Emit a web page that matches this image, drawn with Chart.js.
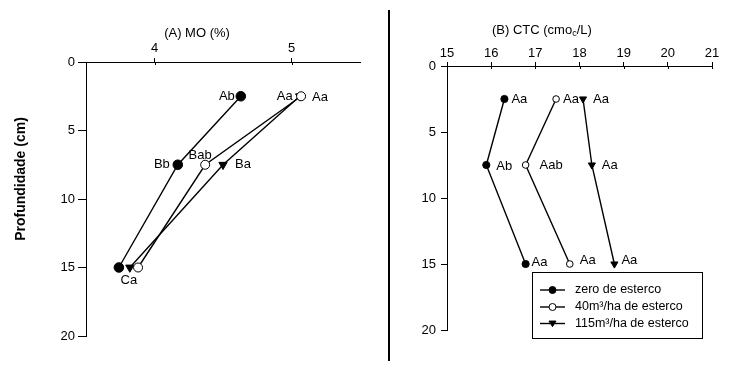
<!DOCTYPE html>
<html>
<head>
<meta charset="utf-8">
<script src="https://cdn.jsdelivr.net/npm/chart.js@4.4.1/dist/chart.umd.min.js"></script>
<style>
html, body { margin: 0; padding: 0; background: #fff; }
#wrap { position: relative; width: 743px; height: 378px; }
#wrap canvas { position: absolute; left: 0; top: 0; }
</style>
</head>
<body>
<div id="wrap">
  <canvas id="chartA" width="743" height="378"></canvas>
  <canvas id="chartB" width="743" height="378"></canvas>
</div>
<script>
// Depths (cm) shared by both panels
const depths = [2.5, 7.5, 15];

// (A) MO (%)
const moTicks = [4, 5];
const moZero = [4.63, 4.17, 3.74];
const mo40 = [5.07, 4.37, 3.88];
const mo115 = [5.06, 4.50, 3.82];
const moZeroLetters = ['Ab', 'Bb', 'Ca'];
const mo40Letters = ['Aa', 'Bab', ''];
const mo115Letters = ['Aa', 'Ba', ''];

// (B) CTC (cmolc/L)
const ctcTicks = [15, 16, 17, 18, 19, 20, 21];
const ctcZero = [16.30, 15.89, 16.78];
const ctc40 = [17.47, 16.78, 17.78];
const ctc115 = [18.08, 18.28, 18.79];
const ctcZeroLetters = ['Aa', 'Ab', 'Aa'];
const ctc40Letters = ['Aa', 'Aab', 'Aa'];
const ctc115Letters = ['Aa', 'Aa', 'Aa'];

const depthTicks = [0, 5, 10, 15, 20];
const seriesNames = ['zero de esterco', '40m³/ha de esterco', '115m³/ha de esterco'];

// label placement (pixel offsets from the point: dx, dy, align)
const moLetterPos = [
    [[-6, 0, 'right'], [-8, 0, 'right'], [10, 13, 'center']],
    [[11, 1, 'left'], [-5, -9, 'center'], null],
    [[-7, 0, 'right'], [12, 0, 'left'], null]
];
const ctcLetterPos = [
    [[7, 0, 'left'], [10, 1, 'left'], [6, -2, 'left']],
    [[7, 0, 'left'], [14, 0, 'left'], [10, -4, 'left']],
    [[10, 0, 'left'], [10, 0, 'left'], [7, -4, 'left']]
];

const FONT = '"Liberation Sans", Arial, sans-serif';

function pts(xs) {
    return xs.map((v, i) => ({ x: v, y: depths[i] }));
}

function series(xs, style, radius) {
    const open = style === 'open';
    return {
        data: pts(xs),
        borderColor: '#000',
        borderWidth: 1.4,
        pointStyle: style === 'tri' ? 'triangle' : 'circle',
        rotation: style === 'tri' ? 180 : 0,
        pointRadius: style === 'tri' ? radius + 0.5 : (open ? radius - 0.3 : radius),
        pointBackgroundColor: open ? '#fff' : '#000',
        pointBorderColor: '#000',
        pointBorderWidth: 1,
        showLine: true,
        tension: 0,
        fill: false
    };
}

function drawMarker(ctx, style, x, y, r) {
    ctx.save();
    ctx.lineWidth = 1;
    ctx.strokeStyle = '#000';
    ctx.fillStyle = style === 'open' ? '#fff' : '#000';
    ctx.beginPath();
    if (style === 'tri') {
        ctx.moveTo(x - r, y - r * 0.7);
        ctx.lineTo(x + r, y - r * 0.7);
        ctx.lineTo(x, y + r * 0.9);
        ctx.closePath();
    } else {
        ctx.arc(x, y, r, 0, Math.PI * 2);
    }
    ctx.fill();
    ctx.stroke();
    ctx.restore();
}

function panel(id, o) {
    const extras = {
        id: 'extras',
        afterDraw(chart) {
            const ctx = chart.ctx;
            const xs = chart.scales.x;
            ctx.save();
            // tick marks crossing into the plot
            ctx.strokeStyle = '#000';
            ctx.lineWidth = 1;
            o.xTicks.forEach(v => {
                const px = Math.round(xs.getPixelForValue(v)) + 0.5;
                ctx.beginPath();
                ctx.moveTo(px, chart.chartArea.top);
                ctx.lineTo(px, chart.chartArea.top + 3);
                ctx.stroke();
            });
            // letters next to points
            ctx.fillStyle = '#000';
            ctx.font = '13px ' + FONT;
            ctx.textBaseline = 'middle';
            o.letters.forEach((arr, i) => {
                const meta = chart.getDatasetMeta(i);
                arr.forEach((txt, j) => {
                    const pos = o.letterPos[i][j];
                    if (!txt || !pos) return;
                    const p = meta.data[j];
                    ctx.textAlign = pos[2];
                    ctx.fillText(txt, p.x + pos[0], p.y + pos[1]);
                });
            });
            ctx.restore();
            if (o.after) o.after(chart);
        }
    };

    return new Chart(document.getElementById(id), {
        type: 'line',
        data: { datasets: o.datasets },
        options: {
            responsive: false,
            animation: false,
            devicePixelRatio: 1,
            layout: { padding: o.padding },
            plugins: { legend: { display: false }, tooltip: { enabled: false } },
            scales: {
                x: {
                    type: 'linear',
                    position: 'top',
                    min: o.xMin,
                    max: o.xMax,
                    afterBuildTicks: s => { s.ticks = o.xTicks.map(v => ({ value: v })); },
                    afterFit: s => { s.height = 20; },
                    grid: { drawOnChartArea: false, tickLength: 4, color: '#000', lineWidth: 1 },
                    border: { color: '#000', width: 1 },
                    ticks: { color: '#000', font: { family: FONT, size: 13 }, padding: o.xPad, maxRotation: 0, autoSkip: false }
                },
                y: {
                    type: 'linear',
                    reverse: true,
                    min: 0,
                    max: 20,
                    afterBuildTicks: s => { s.ticks = depthTicks.map(v => ({ value: v })); },
                    afterFit: s => { s.width = 40; },
                    grid: { drawOnChartArea: false, tickLength: o.yTick, color: '#000', lineWidth: 1 },
                    border: { color: '#000', width: 1 },
                    ticks: { color: '#000', font: { family: FONT, size: 13 }, padding: o.yPad }
                }
            }
        },
        plugins: [extras]
    });
}

// left panel
panel('chartA', {
    xMin: 3.5, xMax: 5.5, xTicks: moTicks,
    padding: { left: 46, right: 383, top: 42, bottom: 42 },
    xPad: 2, yTick: 8, yPad: 3,
    datasets: [series(moZero, 'solid', 4.8), series(mo40, 'open', 4.8), series(mo115, 'tri', 4.3)],
    letters: [moZeroLetters, mo40Letters, mo115Letters],
    letterPos: moLetterPos,
    after(chart) {
        const ctx = chart.ctx;
        ctx.save();
        ctx.fillStyle = '#000';
        ctx.font = '13px ' + FONT;
        ctx.textAlign = 'center';
        ctx.textBaseline = 'middle';
        ctx.fillText('(A) MO (%)', 197, 33);
        // y title
        ctx.translate(21, 179);
        ctx.rotate(-Math.PI / 2);
        ctx.font = 'bold 14px ' + FONT;
        ctx.fillText('Profundidade (cm)', 0, 0);
        ctx.restore();
        // divider
        ctx.save();
        ctx.strokeStyle = '#000';
        ctx.lineWidth = 2;
        ctx.beginPath();
        ctx.moveTo(389, 10);
        ctx.lineTo(389, 361);
        ctx.stroke();
        ctx.restore();
    }
});

// right panel
panel('chartB', {
    xMin: 15, xMax: 21, xTicks: ctcTicks,
    padding: { left: 407, right: 31, top: 46, bottom: 48 },
    xPad: 1, yTick: 6, yPad: 5,
    datasets: [series(ctcZero, 'solid', 3.6), series(ctc40, 'open', 3.6), series(ctc115, 'tri', 3.6)],
    letters: [ctcZeroLetters, ctc40Letters, ctc115Letters],
    letterPos: ctcLetterPos,
    after(chart) {
        const ctx = chart.ctx;
        ctx.save();
        ctx.fillStyle = '#000';
        ctx.textBaseline = 'middle';
        ctx.textAlign = 'left';
        // title with subscript
        let x = 492;
        ctx.font = '13px ' + FONT;
        const t1 = '(B) CTC (cmo';
        ctx.fillText(t1, x, 30);
        x += ctx.measureText(t1).width;
        ctx.font = '9px ' + FONT;
        ctx.fillText('c', x, 34);
        x += ctx.measureText('c').width;
        ctx.font = '13px ' + FONT;
        ctx.fillText('/L)', x, 30);

        // legend
        ctx.strokeStyle = '#000';
        ctx.lineWidth = 1;
        ctx.strokeRect(532.5, 272.5, 170, 66);
        const styles = ['solid', 'open', 'tri'];
        const rows = [290, 307, 323.5];
        ctx.font = '12.5px ' + FONT;
        seriesNames.forEach((name, i) => {
            const y = rows[i];
            ctx.lineWidth = 1.4;
            ctx.beginPath();
            ctx.moveTo(540, y);
            ctx.lineTo(565, y);
            ctx.stroke();
            drawMarker(ctx, styles[i], 552.5, y, 3.5);
            ctx.fillStyle = '#000';
            ctx.fillText(name, 575, y);
        });
        ctx.restore();
    }
});
</script>
</body>
</html>
